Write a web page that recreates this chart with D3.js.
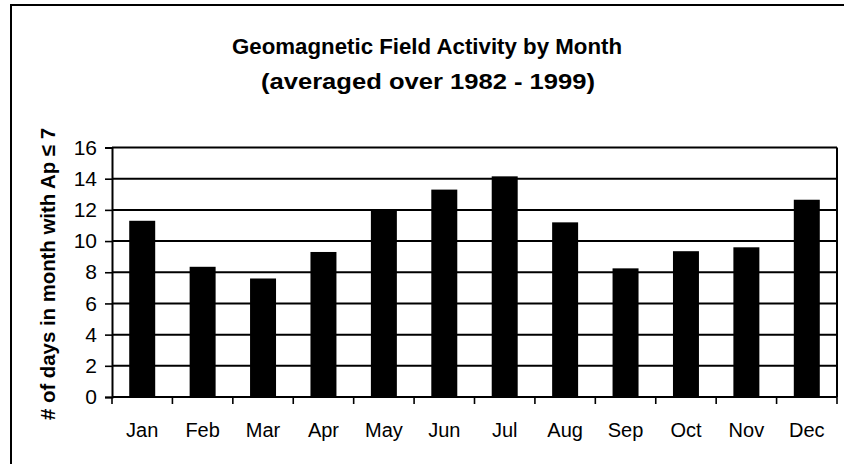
<!DOCTYPE html>
<html>
<head>
<meta charset="utf-8">
<script src="https://cdn.jsdelivr.net/npm/d3@7"></script>
<style>
  html, body { margin: 0; padding: 0; background: #fff; }
  svg { display: block; }
  text { font-family: "Liberation Sans", Arial, sans-serif; fill: #000; }
</style>
</head>
<body>
<svg id="chart" width="844" height="464"></svg>
<script>
const months = ["Jan","Feb","Mar","Apr","May","Jun","Jul","Aug","Sep","Oct","Nov","Dec"];
const daysQuiet = [11.3, 8.35, 7.6, 9.3, 12.0, 13.3, 14.15, 11.2, 8.25, 9.35, 9.6, 12.65];
const yTicks = [0, 2, 4, 6, 8, 10, 12, 14, 16];
const titleLines = ["Geomagnetic Field Activity by Month", "(averaged over 1982 - 1999)"];
const yTitle = "# of days in month with Ap \u2264 7";

const svg = d3.select("#chart");
const W = 844, H = 464;
const plot = { left: 112, right: 837, top: 147.5, bottom: 397 };

// outer frame
svg.append("rect").attr("x", 11).attr("y", 5).attr("width", W + 10).attr("height", H + 10)
  .attr("fill", "none").attr("stroke", "#000").attr("stroke-width", 2);

const x = d3.scaleBand().domain(months).range([plot.left, plot.right]).paddingInner(0.57).paddingOuter(0.285);
const xb = d3.scaleBand().domain(months).range([plot.left, plot.right]);
const y = d3.scaleLinear().domain([0, 16]).range([plot.bottom, plot.top]);

// gridlines
svg.append("g").selectAll("line").data(yTicks.filter(d => d > 0)).join("line")
  .attr("x1", plot.left).attr("x2", plot.right)
  .attr("y1", d => y(d)).attr("y2", d => y(d))
  .attr("stroke", "#000").attr("stroke-width", 2);

// right border of plot
svg.append("line").attr("x1", plot.right).attr("x2", plot.right)
  .attr("y1", plot.top).attr("y2", plot.bottom).attr("stroke", "#000").attr("stroke-width", 2);

// bars
svg.append("g").selectAll("rect").data(months).join("rect")
  .attr("x", d => x(d)).attr("width", x.bandwidth())
  .attr("y", (d, i) => y(daysQuiet[i]))
  .attr("height", (d, i) => y(0) - y(daysQuiet[i]))
  .attr("fill", "#000");

// y axis
const yAxis = svg.append("g").attr("transform", `translate(${plot.left},0)`)
  .call(d3.axisLeft(y).tickValues(yTicks).tickSize(7).tickPadding(8));
yAxis.select(".domain").attr("stroke-width", 2);
yAxis.selectAll(".tick line").attr("stroke-width", 1.6);
yAxis.selectAll("text").attr("font-size", 21).attr("font-family", "Liberation Sans, Arial, sans-serif");

// x axis (ticks at band boundaries)
const xAxisG = svg.append("g").attr("transform", `translate(0,${plot.bottom})`);
xAxisG.append("line").attr("x1", plot.left).attr("x2", plot.right).attr("stroke", "#000").attr("stroke-width", 2);
const bounds = months.map(m => xb(m)).concat([plot.right]);
xAxisG.selectAll("line.tk").data(bounds).join("line").attr("class", "tk")
  .attr("x1", d => d).attr("x2", d => d).attr("y1", 0).attr("y2", 7)
  .attr("stroke", "#000").attr("stroke-width", 1.6);
xAxisG.selectAll("text").data(months).join("text")
  .attr("x", d => xb(d) + xb.bandwidth() / 2).attr("y", 40)
  .attr("text-anchor", "middle").attr("font-size", 20).text(d => d);

// title
svg.append("text").attr("x", 427).attr("y", 54).attr("text-anchor", "middle")
  .attr("font-size", 22).attr("font-weight", "bold")
  .attr("textLength", 390).attr("lengthAdjust", "spacingAndGlyphs").text(titleLines[0]);
svg.append("text").attr("x", 428).attr("y", 89).attr("text-anchor", "middle")
  .attr("font-size", 22).attr("font-weight", "bold")
  .attr("textLength", 334).attr("lengthAdjust", "spacingAndGlyphs").text(titleLines[1]);

// y title
svg.append("text").attr("transform", "translate(55,274) rotate(-90)")
  .attr("text-anchor", "middle").attr("font-size", 21).attr("font-weight", "bold")
  .attr("textLength", 292).attr("lengthAdjust", "spacingAndGlyphs").text(yTitle);
</script>
</body>
</html>
